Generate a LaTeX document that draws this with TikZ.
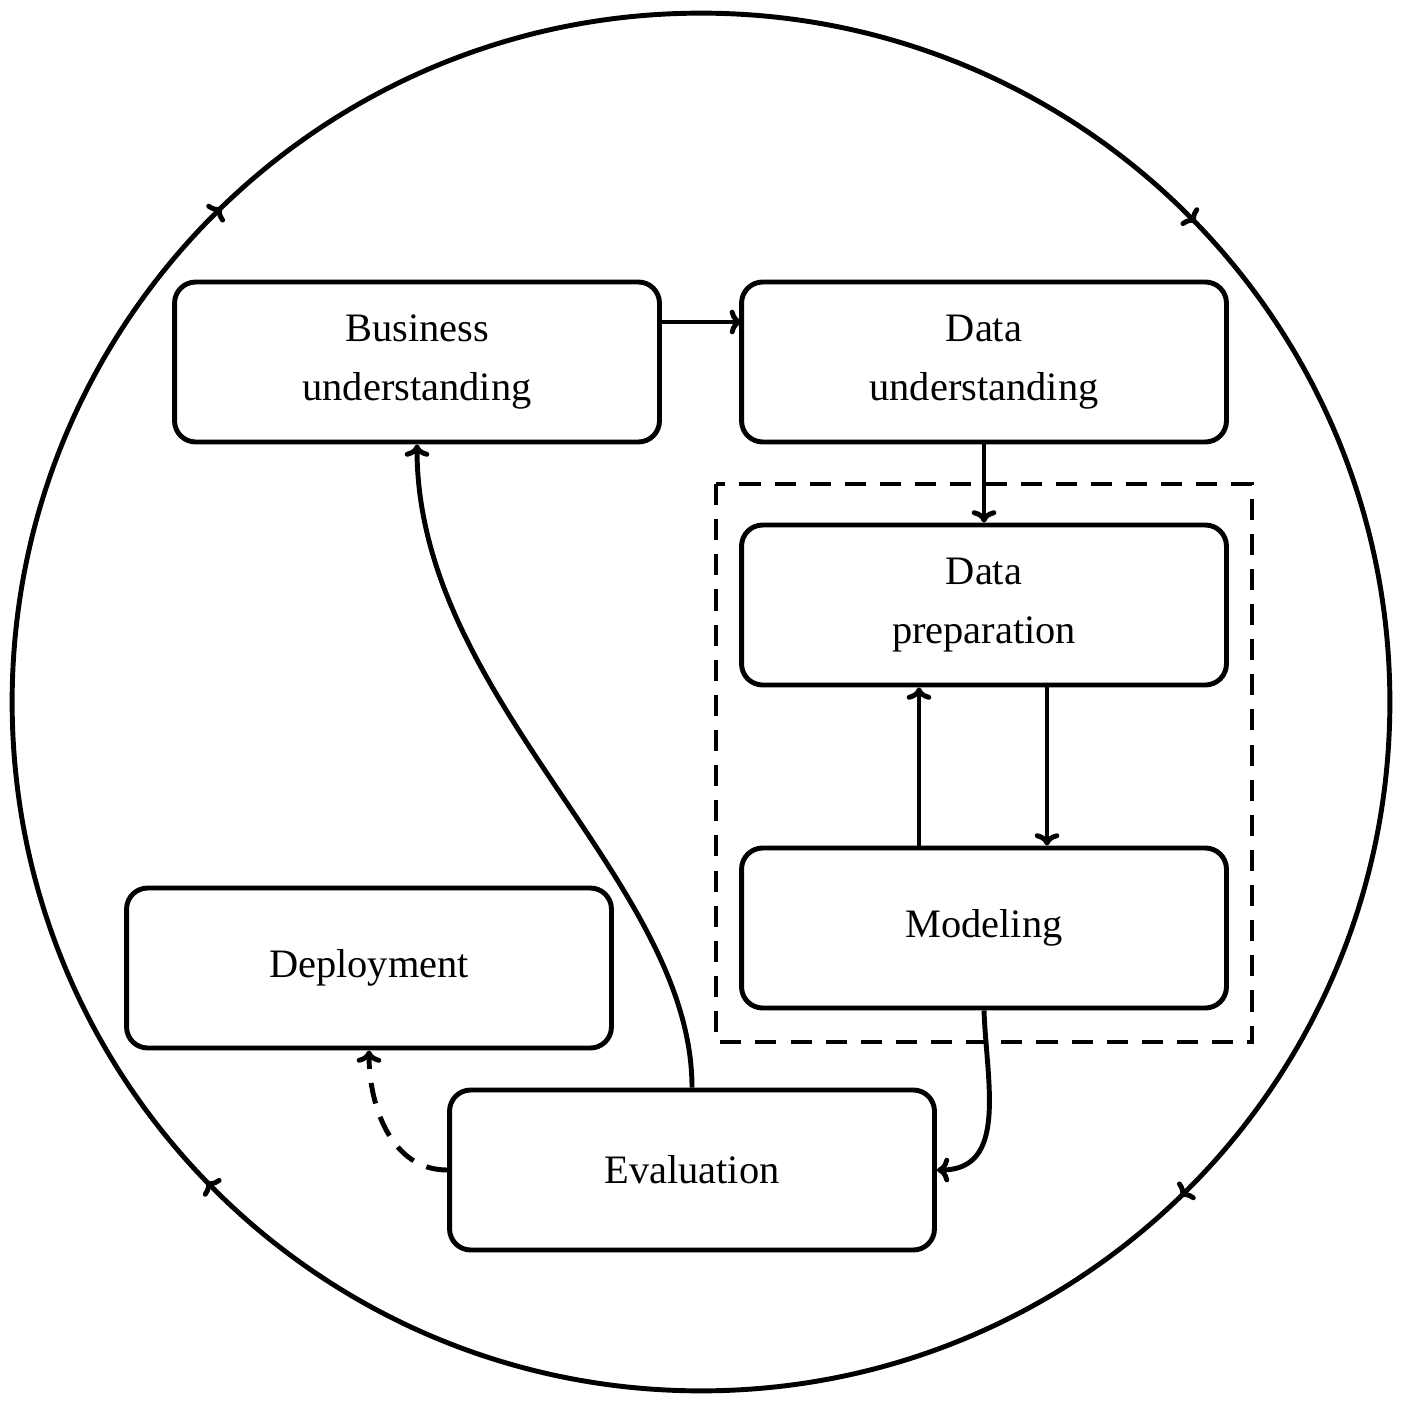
\documentclass[tikz,border=0pt]{standalone}
\usepackage{fontspec}
\setmainfont{Liberation Serif}
\usetikzlibrary{arrows.meta,decorations.markings}
\begin{document}
\begin{tikzpicture}[x=0.02cm,y=-0.02cm,
  box/.style={draw,line width=2.8pt,rounded corners=12pt,minimum width=9.7cm,minimum height=3.2cm,align=center,font=\fontsize{23}{34}\selectfont},
  conn/.style={line width=2.8pt,-{To[length=7pt,width=14pt]}},
  every node/.style={inner sep=0pt}]
\useasboundingbox (0,0) rectangle (1408,1412);
\draw[line width=2.8pt,postaction={decorate},decoration={markings,
  mark=at position 0.125 with {\arrow{To[length=6pt,width=14pt,reversed]}},
  mark=at position 0.375 with {\arrow{To[length=6pt,width=14pt,reversed]}},
  mark=at position 0.625 with {\arrow{To[length=6pt,width=14pt,reversed]}},
  mark=at position 0.875 with {\arrow{To[length=6pt,width=14pt,reversed]}}}]
  (701,702) circle[radius=13.78cm];
\node[box] (bu) at (417,362) {Business\\understanding};
\node[box] (du) at (984,362) {Data\\understanding};
\node[box] (dp) at (984,605) {Data\\preparation};
\node[box] (mo) at (984,928) {Modeling};
\node[box] (de) at (369,968) {Deployment};
\node[box] (ev) at (692,1170) {Evaluation};
\draw[line width=2.8pt,dash pattern=on 12pt off 8pt] (716,484) rectangle (1252,1042);
\coordinate (a1) at (660,322);
\coordinate (a2) at (742,322);
\draw[conn] (a1) -- (a2);
\draw[conn] (du.south) -- (dp.north);
\draw[conn] (dp.south -| 1047,0) -- (mo.north -| 1047,0);
\draw[conn] (mo.north -| 919,0) -- (dp.south -| 919,0);
\draw[conn] (mo.south) to[out=-88,in=0,looseness=1.1] (ev.east);
\draw[conn] (ev.north) .. controls (692,880) and (417,700) .. (bu.south);
\draw[conn,dash pattern=on 12pt off 8pt] (ev.west) to[out=180,in=-90] (de.south);
\end{tikzpicture}
\end{document}
